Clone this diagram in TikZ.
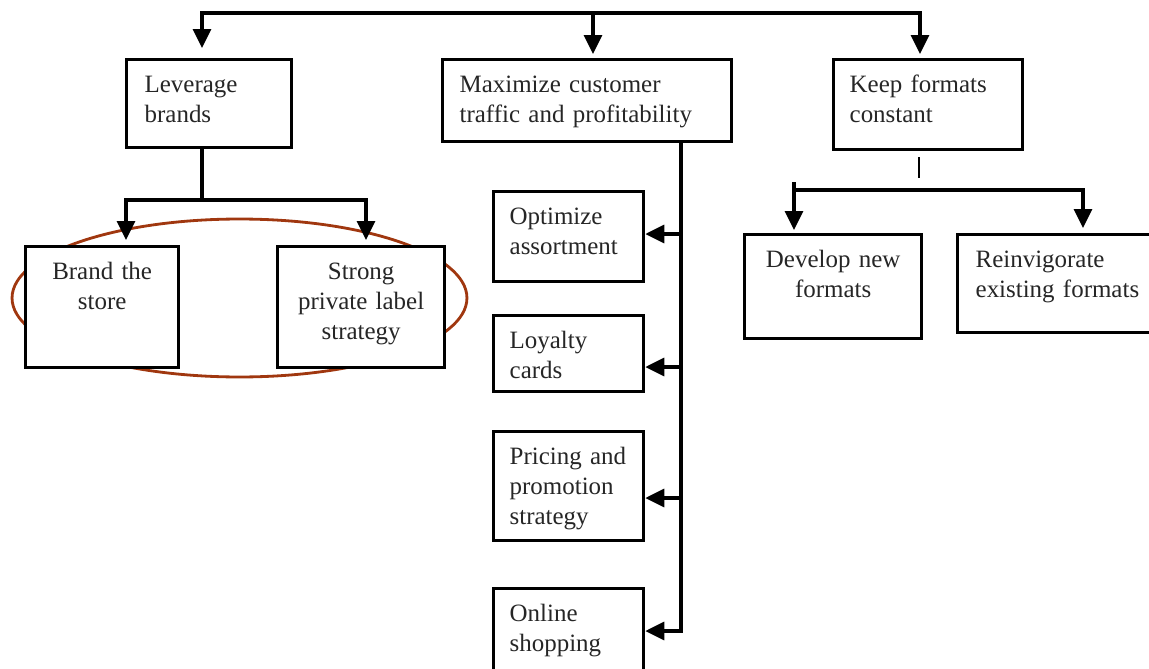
\documentclass[tikz,border=0pt]{standalone}
\usepackage{fontspec}
\setmainfont{Liberation Serif}
\usetikzlibrary{arrows.meta}
\definecolor{ringbrown}{RGB}{160,55,15}
\tikzset{
  box/.style={rectangle, draw, fill=white, line width=1.9pt, anchor=north west,
    inner xsep=0.34cm, inner ysep=0pt, text height=0.66cm, align=left,
    text=black!85, font=\fontsize{14.2}{17.1}\selectfont},
  side/.style={box, text width=2.36cm, inner xsep=0.32cm},
  bus/.style={line width=1.9pt, line cap=rect},
  arr/.style={line width=1.9pt, -{Triangle[length=0.38cm, width=0.36cm]}},
  tick/.style={line width=0.9pt},
}
\begin{document}
\begin{tikzpicture}[x=0.02cm, y=-0.02cm]
  \useasboundingbox (0,0) rectangle (1149,669);
  % Ring round the brand boxes
  \draw[ringbrown, line width=1.6pt] (239.5,298) ellipse [x radius=4.55cm, y radius=1.58cm];
  % Nodes
  \node (lev) [box, text width=2.58cm, text depth=1.10cm, inner xsep=0.36cm] at (125,58) {Leverage\\brands};
  \node (max) [box, text width=5.10cm, text depth=0.98cm] at (441,58) {Maximize customer\\traffic and profitability};
  \node (keep) [box, text width=3.14cm, text depth=1.14cm, inner xsep=0.32cm] at (832,58) {Keep formats\\constant};
  \node (brand) [box, text width=2.38cm, text depth=1.76cm, align=center] at (24,245) {Brand the\\store};
  \node (strong) [box, text width=2.66cm, text depth=1.76cm, align=center] at (276,245) {Strong\\private label\\strategy};
  \node (opt) [side, text depth=1.14cm] at (492,190) {Optimize\\assortment};
  \node (loy) [side, text depth=0.86cm] at (492,314) {Loyalty\\cards};
  \node (pri) [side, text depth=1.52cm] at (492,430) {Pricing and\\promotion\\strategy};
  \node (onl) [side, text depth=1.14cm] at (492,587) {Online\\shopping};
  \node (dev) [box, text width=2.86cm, text depth=1.42cm, align=center] at (743,233) {Develop new\\formats};
  \node (rein) [box, text width=3.30cm, text depth=1.30cm, inner xsep=0.36cm] at (956,233) {Reinvigorate\\existing formats};
  % Top bus
  \coordinate (busL) at (202,13);
  \coordinate (busM) at (593,13);
  \coordinate (busR) at (920,13);
  \draw[arr, shorten >=0.2cm] (busM) -| (busL |- lev.north);
  \draw[arr, shorten >=0.08cm] (busM) -| (busR |- keep.north);
  \draw[arr, shorten >=0.08cm] (busM) -- (busM |- max.north);
  % Leverage brands split
  \coordinate (lsplit) at (202,200);
  \coordinate (lbrand) at (126,200);
  \coordinate (lstrong) at (366,200);
  \draw[bus] (lev.south -| lsplit) -- (lsplit);
  \draw[arr, shorten >=0.1cm] (lsplit) -| (lbrand |- brand.north);
  \draw[arr, shorten >=0.1cm] (lsplit) -| (lstrong |- strong.north);
  % Maximize trunk
  \coordinate (mtop) at (681,145);
  \coordinate (mbot) at (681,631);
  \draw[bus] (mtop) -- (mbot);
  \foreach \n/\y in {opt/234, loy/367, pri/498, onl/631}{
    \coordinate (j\n) at (681,\y);
    \draw[arr] (j\n) -- (j\n -| \n.east);
  }
  % Keep formats split
  \coordinate (ktick) at (919,157);
  \draw[tick] (ktick) -- ++(0,21);
  \coordinate (ktop) at (794,182);
  \coordinate (kdev) at (794,190);
  \coordinate (krein) at (1083,190);
  \draw[arr, shorten >=0.06cm] (ktop) -- (ktop |- dev.north);
  \draw[arr, shorten >=0.1cm] (kdev) -| (krein |- rein.north);
\end{tikzpicture}
\end{document}
